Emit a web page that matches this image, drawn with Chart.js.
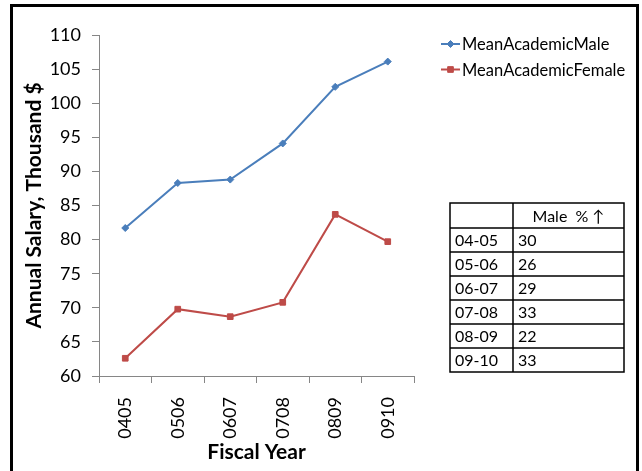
<!DOCTYPE html>
<html>
<head>
<meta charset="utf-8">
<script src="https://cdn.jsdelivr.net/npm/chart.js@4.4.1/dist/chart.umd.min.js"></script>
<style>
  html, body { margin: 0; padding: 0; background: #fff; }
  canvas { display: block; }
</style>
</head>
<body>
<canvas id="salaryChart" width="642" height="471"></canvas>
<script>
const fiscalYears = ["0405", "0506", "0607", "0708", "0809", "0910"];
const meanAcademicMale = [81.7, 88.3, 88.8, 94.1, 102.4, 106.1];
const meanAcademicFemale = [62.6, 69.8, 68.7, 70.8, 83.7, 79.7];

// side table: year span and male % increase
const tableYears = ["04-05", "05-06", "06-07", "07-08", "08-09", "09-10"];
const malePercentUp = [30, 26, 29, 33, 22, 33];

const FONT = "Lato, 'Open Sans', sans-serif";
const AXIS_GREY = "#868686";

// outer frame (left, top, right only)
const frame = {
  id: "frame",
  afterDraw(chart) {
    const ctx = chart.ctx;
    ctx.save();
    ctx.fillStyle = "#000";
    ctx.fillRect(10, 4, 3, 480);
    ctx.fillRect(10, 4, 629, 3);
    ctx.fillRect(636, 4, 3, 480);
    ctx.restore();
  }
};

const sideLegend = {
  id: "sideLegend",
  afterDraw(chart) {
    const ctx = chart.ctx;
    ctx.save();
    chart.data.datasets.forEach((ds, i) => {
      const y = 44 + i * 25.5;
      ctx.strokeStyle = ds.borderColor;
      ctx.lineWidth = 2;
      ctx.beginPath();
      ctx.moveTo(441, y);
      ctx.lineTo(460, y);
      ctx.stroke();
      ctx.fillStyle = ds.backgroundColor;
      ctx.lineWidth = 1;
      Chart.helpers.drawPoint(ctx, { pointStyle: ds.pointStyle, radius: ds.pointRadius, borderWidth: 1 }, 450.5, y);
      ctx.fillStyle = "#000";
      ctx.font = "16.5px " + FONT;
      ctx.textBaseline = "middle";
      ctx.textAlign = "left";
      ctx.fillText(ds.label, 462, y + 1);
    });
    ctx.restore();
  }
};

const pctTable = {
  id: "pctTable",
  afterDraw(chart) {
    const ctx = chart.ctx;
    const left = 450, mid = 513, right = 624, top = 203, headH = 25, rowH = 24;
    const bottom = top + headH + rowH * tableYears.length;
    ctx.save();
    ctx.strokeStyle = "#000";
    ctx.lineWidth = 1.5;
    ctx.strokeRect(left, top, right - left, bottom - top);
    ctx.beginPath();
    ctx.moveTo(mid, top);
    ctx.lineTo(mid, bottom);
    for (let i = 0; i < tableYears.length; i++) {
      const y = top + headH + rowH * i;
      ctx.moveTo(left, y);
      ctx.lineTo(right, y);
    }
    ctx.stroke();

    ctx.fillStyle = "#000";
    ctx.font = "16px " + FONT;
    ctx.textBaseline = "middle";
    ctx.textAlign = "center";
    ctx.fillText("Male  % \u2191", (mid + right) / 2, top + headH / 2 + 1);
    ctx.textAlign = "left";
    tableYears.forEach((yr, i) => {
      const y = top + headH + rowH * i + rowH / 2 + 1;
      ctx.fillText(yr, left + 5, y);
      ctx.fillText(String(malePercentUp[i]), mid + 5, y);
    });
    ctx.restore();
  }
};

new Chart(document.getElementById("salaryChart").getContext("2d"), {
  type: "line",
  data: {
    labels: fiscalYears,
    datasets: [
      {
        label: "MeanAcademicMale",
        data: meanAcademicMale,
        borderColor: "#4A7EBB",
        backgroundColor: "#4A7EBB",
        borderWidth: 2,
        pointStyle: "rectRot",
        pointRadius: 3.5,
        pointBorderWidth: 1,
        tension: 0
      },
      {
        label: "MeanAcademicFemale",
        data: meanAcademicFemale,
        borderColor: "#BE4B48",
        backgroundColor: "#BE4B48",
        borderWidth: 2,
        pointStyle: "rect",
        pointRadius: 4,
        pointBorderWidth: 1,
        tension: 0
      }
    ]
  },
  options: {
    responsive: false,
    animation: false,
    layout: { padding: { left: 0, right: 228, top: 35, bottom: 0 } },
    plugins: {
      legend: { display: false },
      tooltip: { enabled: false }
    },
    scales: {
      x: {
        offset: true,
        afterFit: s => { s.height = 95; },
        grid: { offset: true, drawOnChartArea: false, color: AXIS_GREY, tickLength: 7 },
        border: { color: AXIS_GREY },
        ticks: {
          minRotation: 90,
          maxRotation: 90,
          padding: 14,
          color: "#000",
          font: { family: FONT, size: 18 }
        },
        title: {
          display: true,
          text: "Fiscal Year",
          color: "#000",
          font: { family: FONT, size: 21, weight: "bold" },
          padding: { top: 0, bottom: 6 }
        }
      },
      y: {
        min: 60,
        max: 110,
        afterFit: s => { s.width = 99; },
        grid: { drawOnChartArea: false, color: AXIS_GREY, tickLength: 7 },
        border: { color: AXIS_GREY },
        ticks: {
          stepSize: 5,
          padding: 11,
          color: "#000",
          font: { family: FONT, size: 18 }
        },
        title: {
          display: true,
          text: "Annual Salary, Thousand $",
          color: "#000",
          font: { family: FONT, size: 21, weight: "bold" },
          padding: { top: 22, bottom: 0 }
        }
      }
    }
  },
  plugins: [frame, sideLegend, pctTable]
});
</script>
</body>
</html>
